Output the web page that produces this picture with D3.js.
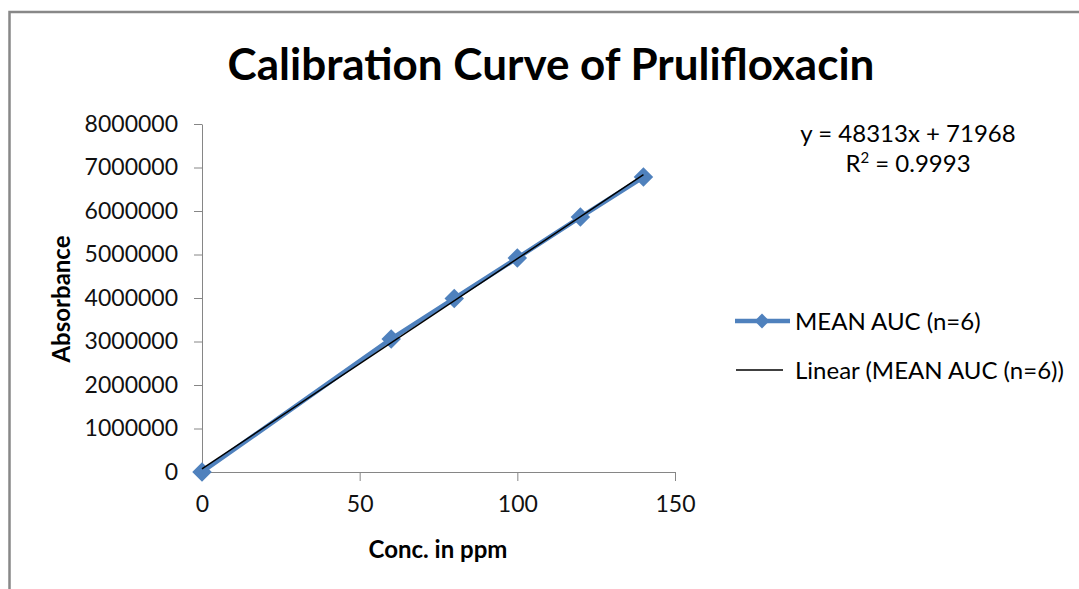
<!DOCTYPE html>
<html lang="en">
<head>
    <meta charset="UTF-8">
    <title>Calibration Curve of Prulifloxacin</title>
    <script src="https://d3js.org/d3.v7.min.js"></script>
    <style>
        body {
            margin: 0;
            background: #fff;
        }
        svg text {
            font-family: Lato, "Open Sans", sans-serif;
            fill: #000;
        }
        .axis path, .axis line {
            stroke: #868686;
        }
        .axis text {
            font-size: 23px;
            fill: #111;
        }
    </style>
</head>
<body>
    <div id="chart"></div>
    <script>
        // data
        const conc = [0, 60, 80, 100, 120, 140];
        const meanAuc = [0, 3060000, 3990000, 4920000, 5860000, 6780000];
        const yTicks = [0, 1000000, 2000000, 3000000, 4000000, 5000000, 6000000, 7000000, 8000000];
        const xTicks = [0, 50, 100, 150];
        // trendline as printed on the chart
        const slope = 48313;
        const intercept = 71968;
        const rSquared = "0.9993";

        const width = 1079;
        const height = 589;
        const blue = "#4f81bd";

        const svg = d3.select("#chart")
            .append("svg")
            .attr("width", width)
            .attr("height", height);

        // chart frame (runs off the right and bottom of the picture)
        svg.append("rect")
            .attr("x", 9.5)
            .attr("y", 12)
            .attr("width", width + 20)
            .attr("height", height + 20)
            .attr("fill", "none")
            .attr("stroke", "#888")
            .attr("stroke-width", 2.5);

        const x = d3.scaleLinear().domain([0, 150]).range([202, 675]);
        const y = d3.scaleLinear().domain([0, 8000000]).range([472, 124]);

        svg.append("g")
            .attr("class", "axis")
            .attr("transform", `translate(0,${y(0)})`)
            .call(d3.axisBottom(x).tickValues(xTicks).tickSize(9).tickSizeOuter(0).tickPadding(15));

        svg.append("g")
            .attr("class", "axis")
            .attr("transform", `translate(${x(0)},0)`)
            .call(d3.axisLeft(y).tickValues(yTicks).tickSize(8).tickSizeOuter(0).tickPadding(16).tickFormat(d3.format("d")));

        // series line + markers
        const pts = conc.map((c, i) => [c, meanAuc[i]]);
        svg.append("path")
            .datum(pts)
            .attr("fill", "none")
            .attr("stroke", blue)
            .attr("stroke-width", 4.5)
            .attr("stroke-linejoin", "round")
            .attr("d", d3.line().x(d => x(d[0])).y(d => y(d[1])));

        const diamond = d3.symbol().type(d3.symbolSquare).size(190);
        svg.selectAll(".marker")
            .data(pts)
            .enter()
            .append("path")
            .attr("class", "marker")
            .attr("d", diamond)
            .attr("fill", blue)
            .attr("transform", d => `translate(${x(d[0])},${y(d[1])}) rotate(45)`);

        // linear trendline over the data range
        const xr = d3.extent(conc);
        svg.append("line")
            .attr("x1", x(xr[0]))
            .attr("y1", y(slope * xr[0] + intercept))
            .attr("x2", x(xr[1]))
            .attr("y2", y(slope * xr[1] + intercept))
            .attr("stroke", "#000")
            .attr("stroke-width", 1.5);

        // titles
        svg.append("text")
            .attr("x", 551)
            .attr("y", 80)
            .attr("text-anchor", "middle")
            .style("font-size", "44px")
            .style("font-weight", "bold")
            .text("Calibration Curve of Prulifloxacin");

        svg.append("text")
            .attr("x", 438)
            .attr("y", 558)
            .attr("text-anchor", "middle")
            .style("font-size", "24px")
            .style("font-weight", "bold")
            .text("Conc. in ppm");

        svg.append("text")
            .attr("transform", "translate(70,299) rotate(-90)")
            .attr("text-anchor", "middle")
            .style("font-size", "24px")
            .style("font-weight", "bold")
            .text("Absorbance");

        // equation label
        const eq = svg.append("text")
            .attr("text-anchor", "middle")
            .style("font-size", "24px");
        eq.append("tspan")
            .attr("x", 908)
            .attr("y", 142)
            .text(`y = ${slope}x + ${intercept}`);
        const r2 = eq.append("tspan")
            .attr("x", 908)
            .attr("y", 172);
        r2.append("tspan").text("R");
        r2.append("tspan").attr("dy", -9).style("font-size", "15px").text("2");
        r2.append("tspan").attr("dy", 9).text(` = ${rSquared}`);

        // legend
        const legend = svg.append("g");
        legend.append("line")
            .attr("x1", 735).attr("x2", 790)
            .attr("y1", 321).attr("y2", 321)
            .attr("stroke", blue)
            .attr("stroke-width", 4.5);
        legend.append("path")
            .attr("d", d3.symbol().type(d3.symbolSquare).size(110))
            .attr("fill", blue)
            .attr("transform", "translate(762,321) rotate(45)");
        legend.append("text")
            .attr("x", 795)
            .attr("y", 330)
            .style("font-size", "24px")
            .text("MEAN AUC (n=6)");

        legend.append("line")
            .attr("x1", 736).attr("x2", 783)
            .attr("y1", 370).attr("y2", 370)
            .attr("stroke", "#000")
            .attr("stroke-width", 1.5);
        legend.append("text")
            .attr("x", 795)
            .attr("y", 379)
            .style("font-size", "24px")
            .text("Linear (MEAN AUC (n=6))");
    </script>
</body>
</html>
